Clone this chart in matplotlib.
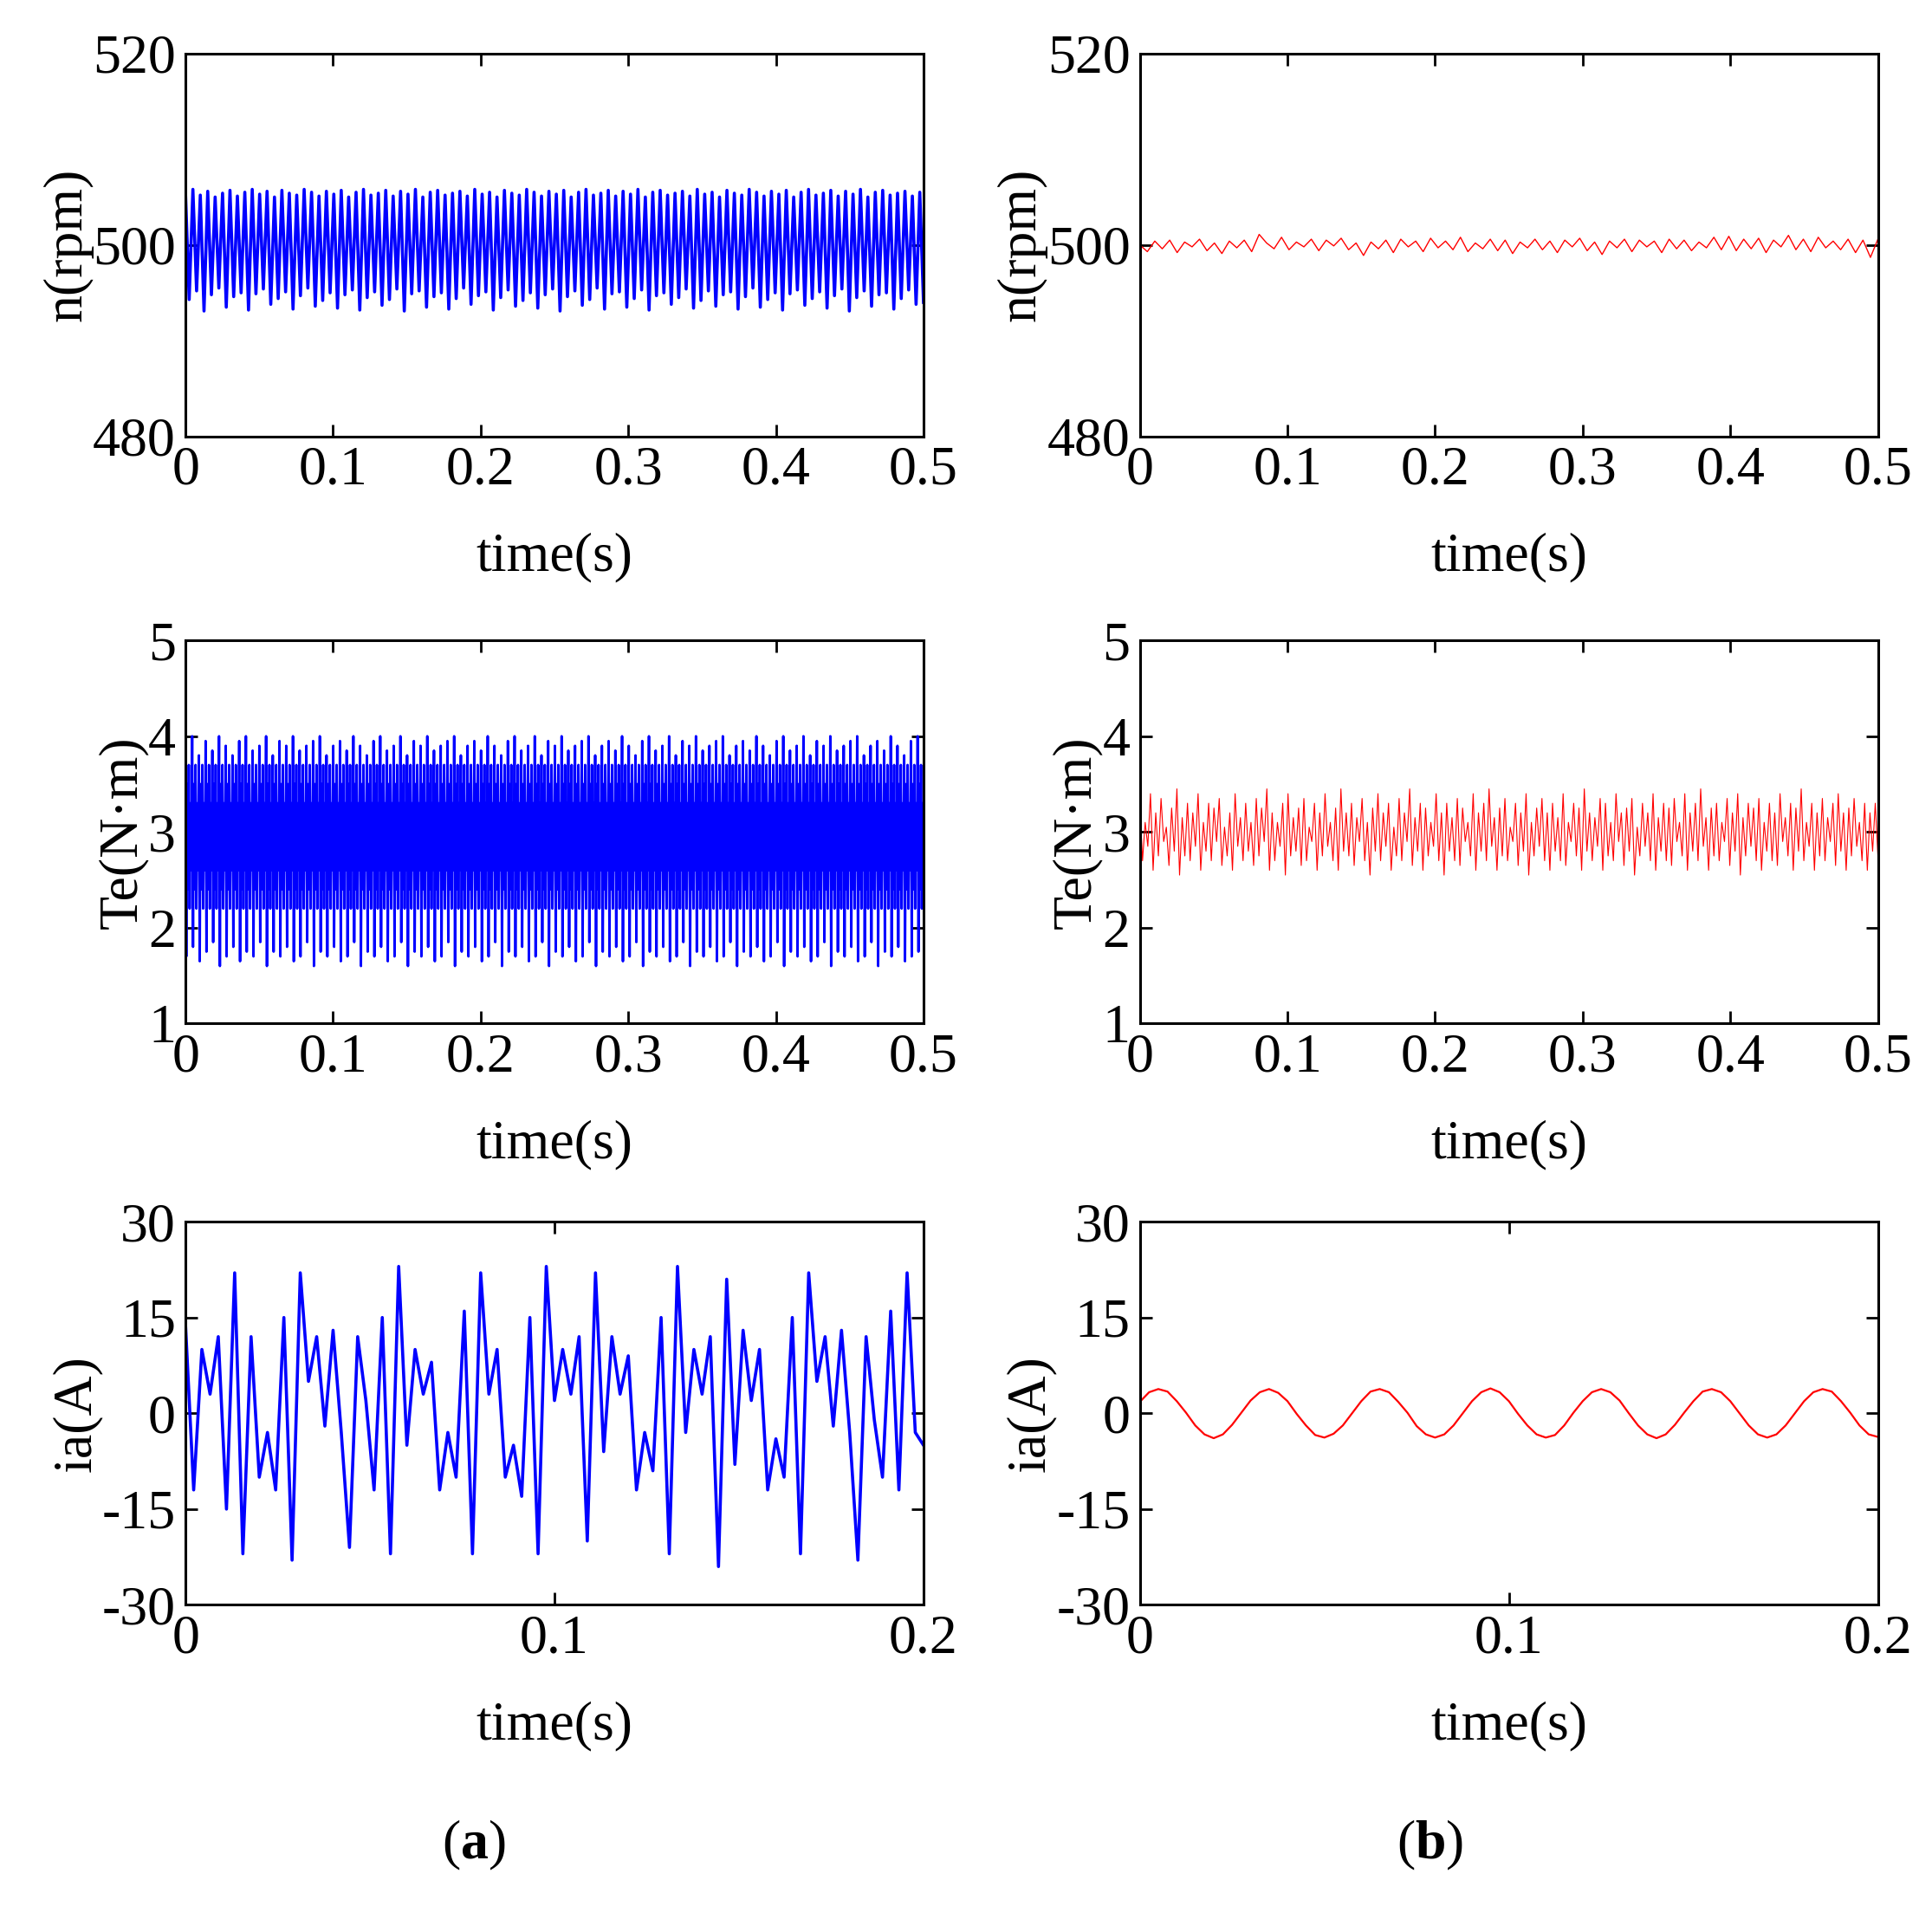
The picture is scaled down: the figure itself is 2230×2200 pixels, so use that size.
import numpy as np
import matplotlib
matplotlib.use("Agg")
import matplotlib.pyplot as plt

plt.rcParams["font.family"] = "Liberation Serif"
plt.rcParams["mathtext.fontset"] = "custom"
plt.rcParams["mathtext.rm"] = "Liberation Serif"
plt.rcParams["mathtext.bf"] = "Liberation Serif:bold"

# ---------------- data ----------------
speed_a_max = [505.5,505.8,505.2,505.6,505.0,505.4,505.7,505.1,505.5,505.8,505.3,505.6,505.0,505.7,505.4,505.2,505.8,505.5,505.1,505.6,
               505.3,505.7,505.0,505.5,505.8,505.2,505.4,505.7,505.1,505.6,505.3,505.8,505.0,505.5,505.7,505.2,505.4,505.6,505.1,505.8,
               505.3,505.5,505.0,505.7,505.4,505.2,505.8,505.5,505.1,505.6,505.3,505.7,505.0,505.5,505.8,505.2,505.4,505.7,505.1,505.6,
               505.3,505.8,505.0,505.5,505.7,505.2,505.4,505.6,505.1,505.8,505.3,505.5,505.0,505.7,505.4,505.2,505.8,505.5,505.1,505.6,
               505.3,505.7,505.0,505.5,505.8,505.2,505.4,505.7,505.1,505.6,505.3,505.8,505.0,505.5,505.7,505.2,505.4,505.6,505.1,505.5]
speed_a_min = [494.3,495.2,493.1,494.8,495.5,493.5,494.6,495.0,493.2,494.9,495.4,493.8,494.4,495.1,493.3,494.7,495.5,493.6,494.2,495.0,
               493.4,494.8,495.3,493.2,494.5,495.1,493.7,494.3,495.4,493.1,494.9,495.2,493.5,494.6,495.0,493.3,494.4,495.5,493.8,494.7,
               495.1,493.2,494.5,495.3,493.6,494.2,495.0,493.4,494.8,495.4,493.1,494.6,495.2,493.7,494.3,495.5,493.3,494.9,495.1,493.5,
               494.4,495.3,493.2,494.7,495.0,493.8,494.5,495.4,493.4,494.2,495.2,493.6,494.8,495.1,493.3,494.6,495.5,493.5,494.3,495.0,
               493.2,494.9,495.3,493.7,494.4,495.1,493.4,494.7,495.4,493.1,494.5,495.2,493.6,494.8,495.0,493.3,494.4,495.3,493.8,494.0]

speed_b = [500.0,499.3,500.4,499.6,500.5,499.2,500.3,499.8,500.6,499.4,500.2,499.1,500.4,499.7,500.5,499.3,501.1,500.2,499.6,500.8,
           499.5,500.3,499.8,500.6,499.4,500.5,499.9,500.7,499.5,500.2,498.9,500.3,499.6,500.5,499.2,500.6,499.8,500.4,499.3,500.7,
           499.7,500.4,499.5,500.8,499.3,500.2,499.6,500.6,499.4,500.5,499.1,500.3,499.7,500.6,499.5,500.4,499.2,500.5,499.8,500.7,
           499.4,500.3,499.0,500.4,499.7,500.6,499.3,500.5,499.8,500.4,499.2,500.6,499.6,500.5,499.4,500.3,499.7,500.8,499.5,500.9,
           499.4,500.6,499.6,500.7,499.2,500.5,499.8,501.0,499.5,500.6,499.3,500.8,499.7,500.4,499.5,500.6,499.2,500.5,498.7,500.6]

torque_a_hi = [3.9,4.0,3.8,3.95,3.85,4.0,3.9,3.8,3.95,4.0,3.85,3.9,4.0,3.8,3.95,3.9,4.0,3.85,3.9,3.95,
               4.0,3.8,3.9,3.95,3.85,4.0,3.9,3.8,3.95,4.0,3.85,3.9,4.0,3.8,3.95,3.9,4.0,3.85,3.9,3.95,
               4.0,3.8,3.9,3.95,3.85,4.0,3.9,3.8,3.95,4.0,3.85,3.9,4.0,3.8,3.95,3.9,4.0,3.85,3.9,3.95,
               4.0,3.8,3.9,3.95,3.85,4.0,3.9,3.8,3.95,4.0,3.85,3.9,4.0,3.8,3.95,3.9,4.0,3.85,3.9,3.95,
               4.0,3.8,3.9,3.95,3.85,4.0,3.9,3.8,3.95,4.0,3.85,3.9,4.0,3.8,3.95,3.9,4.0,3.85,3.9,3.95,
               4.0,3.8,3.9,3.95,3.85,4.0,3.9,3.8,3.95,4.0]
torque_a_lo = [1.7,1.8,1.65,1.75,1.85,1.6,1.7,1.8,1.65,1.75,1.7,1.85,1.6,1.75,1.7,1.8,1.65,1.7,1.85,1.6,
               1.75,1.7,1.8,1.65,1.7,1.85,1.6,1.75,1.7,1.8,1.65,1.7,1.85,1.6,1.75,1.7,1.8,1.65,1.7,1.85,
               1.6,1.75,1.7,1.8,1.65,1.7,1.85,1.6,1.75,1.7,1.8,1.65,1.7,1.85,1.6,1.75,1.7,1.8,1.65,1.7,
               1.85,1.6,1.75,1.7,1.8,1.65,1.7,1.85,1.6,1.75,1.7,1.8,1.65,1.7,1.85,1.6,1.75,1.7,1.8,1.65,
               1.7,1.85,1.6,1.75,1.7,1.8,1.65,1.7,1.85,1.6,1.75,1.7,1.8,1.65,1.7,1.85,1.6,1.75,1.7,1.8,
               1.65,1.7,1.85,1.6,1.75,1.7,1.8,1.65,1.7,1.75]
torque_a_ripple = [3.5, 2.4, 3.7, 2.2, 3.3, 2.6]

torque_b_hi = [3.3,3.1,3.4,3.2,3.35,3.05,3.25,3.45,3.15,3.3,3.2,3.4,3.1,3.3,3.25,3.35,3.05,3.2,3.4,3.15,
               3.3,3.1,3.35,3.25,3.45,3.2,3.1,3.3,3.4,3.15,3.25,3.35,3.05,3.3,3.2,3.4,3.1,3.25,3.45,3.2,
               3.3,3.15,3.35,3.1,3.25,3.4,3.2,3.3,3.05,3.35,3.2,3.45,3.15,3.3,3.25,3.1,3.4,3.2,3.3,3.15,
               3.35,3.25,3.1,3.4,3.2,3.3,3.45,3.15,3.25,3.35,3.05,3.3,3.2,3.4,3.1,3.25,3.35,3.2,3.3,3.15,
               3.4,3.1,3.3,3.25,3.45,3.2,3.15,3.35,3.3,3.1,3.4,3.2,3.25,3.35,3.05,3.3,3.2,3.4,3.15,3.3,
               3.25,3.35,3.1,3.4,3.2,3.3,3.45,3.15,3.25,3.3,3.1,3.35,3.2,3.4,3.15,3.3,3.25,3.35,3.1,3.3,
               3.2,3.4,3.15,3.3,3.25,3.45,3.1,3.3,3.2,3.35,3.15,3.3,3.4,3.2,3.25,3.35,3.1,3.3,3.2,3.3]
torque_b_lo = [2.7,2.85,2.6,2.75,2.9,2.65,2.8,2.55,2.75,2.7,2.85,2.6,2.8,2.7,2.9,2.65,2.75,2.6,2.85,2.7,
               2.8,2.65,2.75,2.9,2.6,2.7,2.85,2.55,2.75,2.8,2.65,2.7,2.9,2.6,2.75,2.85,2.7,2.6,2.8,2.75,
               2.65,2.9,2.7,2.55,2.8,2.7,2.85,2.6,2.75,2.7,2.9,2.65,2.8,2.6,2.75,2.85,2.7,2.55,2.8,2.7,
               2.65,2.9,2.75,2.6,2.8,2.7,2.85,2.6,2.75,2.7,2.9,2.65,2.8,2.55,2.75,2.85,2.7,2.6,2.8,2.7,
               2.65,2.9,2.75,2.6,2.8,2.7,2.85,2.6,2.75,2.7,2.9,2.65,2.8,2.55,2.75,2.85,2.7,2.6,2.8,2.7,
               2.65,2.9,2.75,2.6,2.8,2.7,2.85,2.6,2.75,2.7,2.9,2.65,2.8,2.55,2.75,2.85,2.7,2.6,2.8,2.7,
               2.65,2.9,2.75,2.6,2.8,2.7,2.85,2.6,2.75,2.7,2.9,2.65,2.8,2.6,2.75,2.85,2.7,2.6,2.8,2.75]

ia_a = [14,-12,10,3,12,-15,22,-22,12,-10,-3,-12,15,-23,22,5,12,-2,13,-3,
        -21,12,2,-12,15,-22,23,-5,10,3,8,-12,-3,-10,16,-22,22,3,10,-10,
        -5,-13,15,-22,23,2,10,3,12,-20,22,-6,12,3,9,-12,-3,-9,15,-22,
        23,-3,10,3,12,-24,21,-8,13,2,10,-12,-4,-10,15,-22,22,5,12,-2,
        13,-3,-23,12,-1,-10,16,-12,22,-3,-5]
ia_b = [1.8,3.3,3.8,3.4,1.9,0.1,-1.9,-3.3,-3.9,-3.3,-1.8,0.1,2.0,3.3,3.8,3.2,1.9,-0.1,-1.9,-3.4,
        -3.8,-3.2,-1.9,0.0,1.9,3.4,3.8,3.3,1.8,0.1,-2.0,-3.3,-3.8,-3.3,-1.9,0.0,1.9,3.3,3.9,3.3,
        1.9,-0.1,-1.9,-3.3,-3.8,-3.4,-1.9,0.1,1.9,3.3,3.8,3.3,2.0,0.0,-1.9,-3.3,-3.9,-3.3,-1.8,0.1,
        1.9,3.4,3.8,3.3,1.9,0.0,-1.9,-3.3,-3.8,-3.3,-1.9,0.0,1.9,3.3,3.8,3.4,1.9,0.1,-1.9,-3.3,
        -3.7]

blue = "#0000ff"
red = "#ff0000"

fig = plt.figure(figsize=(22.3, 22.0), dpi=100)
FS = 46

lefts = [0.096, 0.590]
w = 0.382
bottoms = [0.771, 0.463, 0.158]
h = 0.201

def style(ax, xlim, xticks, xtl, ylim, yticks, ytl, ylabel):
    ax.set_xlim(*xlim); ax.set_ylim(*ylim)
    ax.set_xticks(xticks); ax.set_xticklabels(xtl)
    ax.set_yticks(yticks); ax.set_yticklabels(ytl)
    ax.tick_params(direction="in", length=10, width=2, labelsize=FS, top=True, right=True, pad=8)
    for s in ax.spines.values():
        s.set_linewidth(2.2)
    ax.set_xlabel("time(s)", fontsize=FS, labelpad=30)
    ax.set_ylabel(ylabel, fontsize=FS, labelpad=0)

def interleave(a, b):
    return np.column_stack([a, b]).ravel()

X5 = ([0, .1, .2, .3, .4, .5], ["0", "0.1", "0.2", "0.3", "0.4", "0.5"])
X2 = ([0, .1, .2], ["0", "0.1", "0.2"])

sa = interleave(speed_a_max, speed_a_min)
ax = fig.add_axes([lefts[0], bottoms[0], w, h])
ax.plot(np.linspace(0, 0.5, len(sa)), sa, color=blue, lw=2.6)
style(ax, (0, 0.5), *X5, (480, 520), [480, 500, 520], ["480", "500", "520"], "n(rpm)")
ax = fig.add_axes([lefts[1], bottoms[0], w, h])
ax.plot(np.linspace(0, 0.5, len(speed_b)), speed_b, color=red, lw=1.0)
style(ax, (0, 0.5), *X5, (480, 520), [480, 500, 520], ["480", "500", "520"], "n(rpm)")

ta = []
for hi, lo in zip(torque_a_hi, torque_a_lo):
    ta.extend([hi, lo] + torque_a_ripple)
ax = fig.add_axes([lefts[0], bottoms[1], w, h])
ax.plot(np.linspace(0, 0.5, len(ta)), ta, color=blue, lw=2.0)
style(ax, (0, 0.5), *X5, (1, 5), [1, 2, 3, 4, 5], ["1", "2", "3", "4", "5"], "Te(N·m)")
tb = interleave(torque_b_hi, torque_b_lo)
ax = fig.add_axes([lefts[1], bottoms[1], w, h])
ax.plot(np.linspace(0, 0.5, len(tb)), tb, color=red, lw=0.8)
style(ax, (0, 0.5), *X5, (1, 5), [1, 2, 3, 4, 5], ["1", "2", "3", "4", "5"], "Te(N·m)")

ax = fig.add_axes([lefts[0], bottoms[2], w, h])
ax.plot(np.linspace(0, 0.2, len(ia_a)), ia_a, color=blue, lw=2.6)
style(ax, (0, 0.2), *X2, (-30, 30), [-30, -15, 0, 15, 30], ["-30", "-15", "0", "15", "30"], "ia(A)")
ax = fig.add_axes([lefts[1], bottoms[2], w, h])
ax.plot(np.linspace(0, 0.2, len(ia_b)), ia_b, color=red, lw=1.6)
style(ax, (0, 0.2), *X2, (-30, 30), [-30, -15, 0, 15, 30], ["-30", "-15", "0", "15", "30"], "ia(A)")

fig.text(0.245, 0.032, r"($\mathbf{a}$)", fontsize=FS, ha="center", va="center")
fig.text(0.740, 0.032, r"($\mathbf{b}$)", fontsize=FS, ha="center", va="center")

fig.savefig("out.png", dpi=100)
